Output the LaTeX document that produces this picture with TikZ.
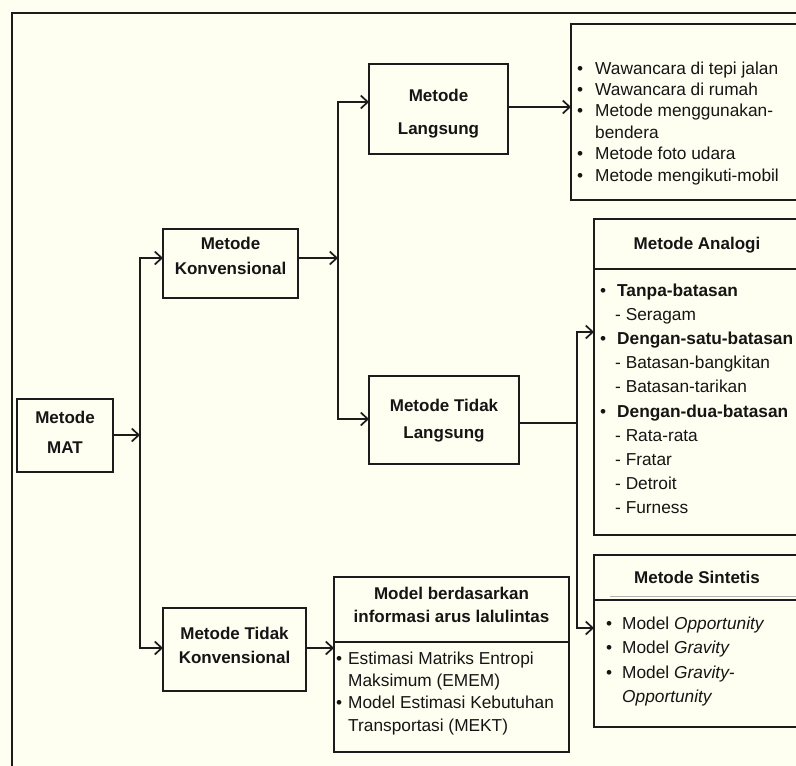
\documentclass[tikz,border=0pt]{standalone}
\usepackage{fontspec}
\setmainfont{Liberation Sans}
\usetikzlibrary{arrows.meta}
\definecolor{bgc}{HTML}{FEFEF1}
\definecolor{linec}{HTML}{1C1C1C}
\definecolor{textc}{HTML}{151515}
\newcommand{\bi}[2]{\makebox[#1][l]{•}#2}
\begin{document}
\begin{tikzpicture}[x=1pt,y=-1pt,
  box/.style={draw=linec, line width=2.2pt, inner sep=0pt, outer sep=0pt},
  divider/.style={draw=linec, line width=2.2pt},
  frameline/.style={draw=linec, line width=2pt},
  conn/.style={draw=linec, line width=1.7pt, line cap=rect, -{Straight Barb[length=7pt,width=13pt]}},
  plain/.style={draw=linec, line width=1.7pt, line cap=rect},
  lbl/.style={font=\fontsize{17}{#1}\selectfont\bfseries, text=textc, inner sep=0pt, anchor=base, align=center},
  lst/.style={font=\fontsize{17.3}{#1}\selectfont, text=textc, inner sep=0pt, anchor=base west, align=left}
]
\useasboundingbox (0,0) rectangle (796,766);
\fill[bgc] (0,0) rectangle (796,766);
\clip (0,0) rectangle (796,766);

% outer frame (cropped)
\draw[frameline] (800,13) -- (12,13) -- (12,770);

% boxes
\node[box, minimum width=96pt, minimum height=73pt] (mat) at (65,435.5) {};
\node[box, minimum width=135pt, minimum height=69pt] (konv) at (230.5,263.5) {};
\node[box, minimum width=143pt, minimum height=83pt] (tkonv) at (234.5,649.5) {};
\node[box, minimum width=139pt, minimum height=90pt] (lang) at (438.5,109) {};
\node[box, minimum width=150pt, minimum height=88pt] (tlang) at (444,420) {};
\node[box, minimum width=229pt, minimum height=176pt] (bul) at (685.5,112) {};
\node[box, minimum width=206pt, minimum height=316pt] (analogi) at (697,377) {};
\node[box, minimum width=206pt, minimum height=172pt] (sint) at (697,641) {};
\node[box, minimum width=235pt, minimum height=175pt] (model) at (451.5,664.5) {};

% dividers
\draw[divider] (594,269) -- (800,269);
\draw[divider] (594,600) -- (800,600);
\draw[draw=gray!60, line width=0.8pt] (610,596) -- (800,596);
\draw[divider] (334,642) -- (569,642);

% box labels (anchor = baseline of last line)
\node[lbl=30] (matT) at (65,453) {Metode\\MAT};
\node[lbl=25] (konvT) at (230.5,274) {Metode\\Konvensional};
\node[lbl=24] (tkonvT) at (234.5,663) {Metode Tidak\\Konvensional};
\node[lbl=33] (langT) at (438.5,134) {Metode\\Langsung};
\node[lbl=27] (tlangT) at (444,438) {Metode Tidak\\Langsung};
\node[lbl=20] (analogiT) at (697,249) {Metode Analogi};
\node[lbl=20] (sintT) at (697,583) {Metode Sintetis};
\node[lbl=23] (modelT) at (451.5,622) {Model berdasarkan\\informasi arus lalulintas};

% lists (anchor = baseline of last line)
\node[lst=21.4] (bulL) at (577,181) {%
\bi{18pt}{Wawancara di tepi jalan}\\
\bi{18pt}{Wawancara di rumah}\\
\bi{18pt}{Metode menggunakan-}\\
\hspace*{18pt}bendera\\
\bi{18pt}{Metode foto udara}\\
\bi{18pt}{Metode mengikuti-mobil}};

\node[lst=24.2] (analogiL) at (600,513.8) {%
\bi{17pt}{\textbf{Tanpa-batasan}}\\
\hspace*{15pt}- Seragam\\
\bi{17pt}{\textbf{Dengan-satu-batasan}}\\
\hspace*{15pt}- Batasan-bangkitan\\
\hspace*{15pt}- Batasan-tarikan\\
\bi{17pt}{\textbf{Dengan-dua-batasan}}\\
\hspace*{15pt}- Rata-rata\\
\hspace*{15pt}- Fratar\\
\hspace*{15pt}- Detroit\\
\hspace*{15pt}- Furness};

\node[lst=24.6] (sintL) at (606,702.8) {%
\bi{16pt}{Model \textit{Opportunity}}\\
\bi{16pt}{Model \textit{Gravity}}\\
\bi{16pt}{Model \textit{Gravity-}}\\
\hspace*{16pt}\textit{Opportunity}};

\node[lst=22.4] (modelL) at (336,731.2) {%
\bi{12pt}{Estimasi Matriks Entropi}\\
\hspace*{12pt}Maksimum (EMEM)\\
\bi{12pt}{Model Estimasi Kebutuhan}\\
\hspace*{12pt}Transportasi (MEKT)};

% junction coordinates
\coordinate (ja) at (140,435);
\coordinate (t1top) at (140,258);
\coordinate (t1bot) at (140,648);
\coordinate (jb) at (338,258);
\coordinate (t2top) at (338,102);
\coordinate (t2bot) at (338,419);
\coordinate (lb) at (508,107);
\coordinate (t3mid) at (577,423);
\coordinate (t3top) at (577,332);
\coordinate (t3bot) at (577,628);

% connectors
\draw[plain] (t1top) -- (t1bot);
\draw[conn] (mat.east |- ja) -- (ja);
\draw[conn] (t1top) -- (konv.west |- t1top);
\draw[conn] (t1bot) -- (tkonv.west |- t1bot);
\draw[conn] (konv.east |- jb) -- (jb);
\draw[plain] (t2top) -- (t2bot);
\draw[conn] (t2top) -- (lang.west |- t2top);
\draw[conn] (t2bot) -- (tlang.west |- t2bot);
\draw[conn] (lang.east |- lb) -- (bul.west |- lb);
\draw[plain] (tlang.east |- t3mid) -- (t3mid);
\draw[plain] (t3top) -- (t3bot);
\draw[conn] (t3top) -- (analogi.west |- t3top);
\draw[conn] (t3bot) -- (sint.west |- t3bot);
\draw[conn] (tkonv.east |- t1bot) -- (model.west |- t1bot);
\end{tikzpicture}
\end{document}
